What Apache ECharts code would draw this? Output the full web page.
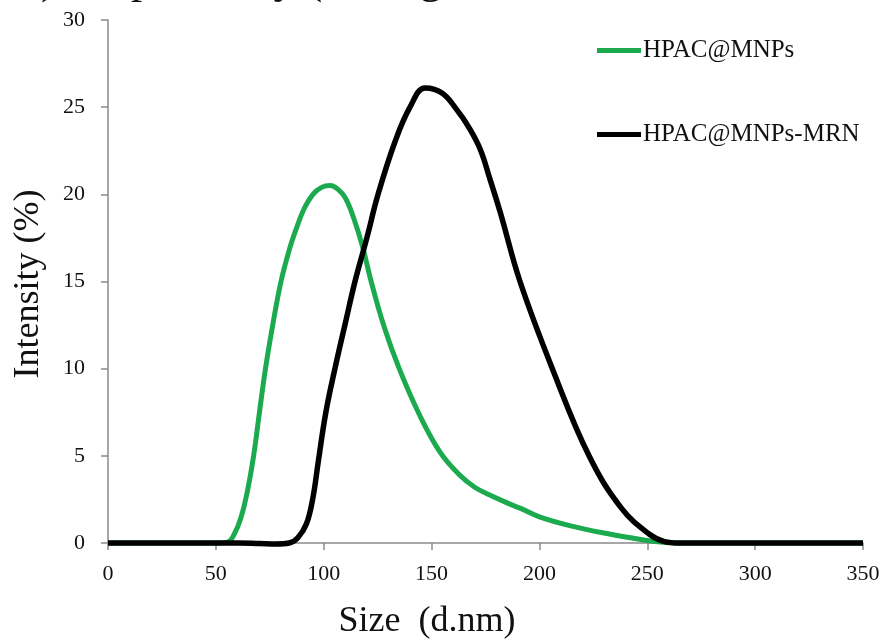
<!DOCTYPE html>
<html>
<head>
<meta charset="utf-8">
<script src="https://cdn.jsdelivr.net/npm/echarts@6/dist/echarts.min.js"></script>
<style>html,body{margin:0;padding:0;background:#fff}#c{width:883px;height:639px}</style>
</head>
<body>
<div id="c"></div>
<script>
var seriesNames = ['HPAC@MNPs', 'HPAC@MNPs-MRN'];
var xTicks = [0, 50, 100, 150, 200, 250, 300, 350];
var yTicks = [0, 5, 10, 15, 20, 25, 30];
var xTitle = 'Size  (d.nm)';
var yTitle = 'Intensity (%)';
var topFragment = '), respectively (average size';
var greenX = [0, 20, 40, 52, 55.5, 58.5, 61.5, 64.5, 67.5, 70, 73, 76.5, 80.2, 84, 87.2, 91, 95, 99, 103, 106.5, 110, 114, 118, 122, 128, 135, 144.6, 154, 163, 170, 177, 185, 191, 200, 214, 233, 247, 256, 265, 300, 350];
var greenY = [0, 0, 0, 0, 0.05, 0.5, 1.4, 2.9, 5, 7.3, 10, 12.6, 15, 16.8, 18, 19.2, 20, 20.4, 20.5, 20.3, 19.8, 18.6, 17, 15, 12.4, 10, 7.3, 5.2, 3.9, 3.2, 2.75, 2.3, 2, 1.5, 1, 0.5, 0.2, 0.05, 0, 0, 0];
var blackX = [0, 20, 40, 60, 70, 78, 84, 88, 92, 95, 97.4, 101, 105.2, 110, 114.5, 120, 125.2, 133, 140, 147, 155, 162, 167, 172.5, 177, 182, 191, 206, 223, 238, 251, 258, 265, 300, 350];
var blackY = [0, 0, 0, 0, -0.03, -0.06, 0, 0.3, 1.1, 2.6, 4.6, 7.5, 10, 12.6, 15, 17.5, 20, 23, 25, 26.1, 25.8, 24.8, 23.9, 22.6, 20.9, 18.9, 15, 10, 5, 2, 0.5, 0.08, 0, 0, 0];

function pairs(xs, ys) { return xs.map(function (x, i) { return [x, ys[i]]; }); }

var serif = '"Liberation Serif", "Times New Roman", serif';
var legendText = { fontFamily: serif, fontSize: 25, color: '#111', padding: [0, 0, 0, -3] };
var chart = echarts.init(document.getElementById('c'));
chart.setOption({
  animation: false,
  backgroundColor: '#fff',
  grid: { left: 108, right: 20, top: 20, bottom: 96 },
  graphic: [
    { type: 'text', x: 41, y: -19,
      style: { text: topFragment, font: '45px ' + serif, fill: '#111', align: 'left', verticalAlign: 'middle' } },
    { type: 'text', x: 427, y: 622,
      style: { text: xTitle, font: '36px ' + serif, fill: '#111', align: 'center', verticalAlign: 'middle' } },
    { type: 'text', x: 29, y: 284, rotation: Math.PI / 2,
      style: { text: yTitle, font: '36px ' + serif, fill: '#111', align: 'center', verticalAlign: 'middle' } }
  ],
  legend: [
    { data: [seriesNames[0]], left: 597, top: 38, padding: 0, icon: 'rect', itemWidth: 44, itemHeight: 5, itemGap: 0, textStyle: legendText },
    { data: [seriesNames[1]], left: 597, top: 122, padding: 0, icon: 'rect', itemWidth: 44, itemHeight: 5, itemGap: 0, textStyle: legendText }
  ],
  xAxis: {
    type: 'value', min: 0, max: 350, interval: 50,
    axisLine: { show: true, lineStyle: { color: '#8a8a8a', width: 1.5 } },
    axisTick: { show: true, inside: false, length: 7, lineStyle: { color: '#8a8a8a', width: 1.5 } },
    axisLabel: { margin: 20, fontFamily: serif, fontSize: 22, color: '#111',
      formatter: function (v) { return xTicks.indexOf(v) >= 0 ? String(v) : ''; } },
    splitLine: { show: false }
  },
  yAxis: {
    type: 'value', min: 0, max: 30, interval: 5,
    axisLine: { show: true, lineStyle: { color: '#8a8a8a', width: 1.5 } },
    axisTick: { show: true, inside: false, length: 7, lineStyle: { color: '#8a8a8a', width: 1.5 } },
    axisLabel: { margin: 23, fontFamily: serif, fontSize: 22, color: '#111',
      formatter: function (v) { return yTicks.indexOf(v) >= 0 ? String(v) : ''; } },
    splitLine: { show: false }
  },
  series: [
    { name: seriesNames[0], type: 'line', data: pairs(greenX, greenY), smooth: 0.4, showSymbol: false,
      clip: false, color: '#1caa4e', lineStyle: { color: '#1caa4e', width: 5 }, z: 3 },
    { name: seriesNames[1], type: 'line', data: pairs(blackX, blackY), smooth: 0.4, showSymbol: false,
      clip: false, color: '#000', lineStyle: { color: '#000', width: 5.5 }, z: 4 }
  ]
});
</script>
</body>
</html>
